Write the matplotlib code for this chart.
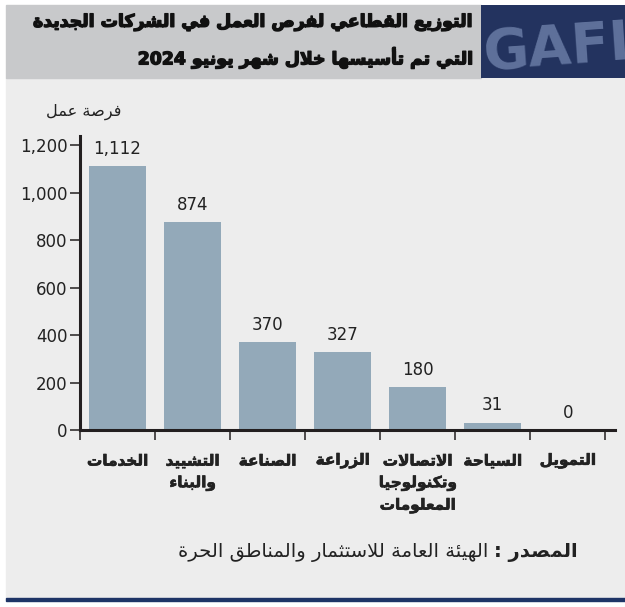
import re
import numpy as np
import matplotlib.pyplot as plt
import matplotlib.patheffects as pe
from matplotlib.patches import Rectangle

## DATA
categories = ['الخدمات', 'التشييد\nوالبناء', 'الصناعة', 'الزراعة',
              'الاتصالات\nوتكنولوجيا\nالمعلومات', 'السياحة', 'التمويل']
jobs = [1112, 874, 370, 327, 180, 31, 0]
yticks = [0, 200, 400, 600, 800, 1000, 1200]
title_lines = ['التوزيع القطاعي لفرص العمل في الشركات الجديدة',
               'التي تم تأسيسها خلال شهر يونيو 2024']
ylabel = 'فرصة عمل'
source_head = 'المصدر :'
source_body = 'الهيئة العامة للاستثمار والمناطق الحرة'

## minimal arabic shaping (matplotlib has no text shaping)
DUAL = {'ئ': 0xFE89, 'ب': 0xFE8F, 'ت': 0xFE95, 'ث': 0xFE99, 'ج': 0xFE9D, 'ح': 0xFEA1,
        'خ': 0xFEA5, 'س': 0xFEB1, 'ش': 0xFEB5, 'ص': 0xFEB9, 'ض': 0xFEBD, 'ط': 0xFEC1,
        'ظ': 0xFEC5, 'ع': 0xFEC9, 'غ': 0xFECD, 'ف': 0xFED1, 'ق': 0xFED5, 'ك': 0xFED9,
        'ل': 0xFEDD, 'م': 0xFEE1, 'ن': 0xFEE5, 'ه': 0xFEE9, 'ي': 0xFEF1}
RIGHT = {'آ': 0xFE81, 'أ': 0xFE83, 'ؤ': 0xFE85, 'إ': 0xFE87, 'ا': 0xFE8D, 'ة': 0xFE93,
         'د': 0xFEA9, 'ذ': 0xFEAB, 'ر': 0xFEAD, 'ز': 0xFEAF, 'و': 0xFEED, 'ى': 0xFEEF}
LAMALEF = {'آ': 0xFEF5, 'أ': 0xFEF7, 'إ': 0xFEF9, 'ا': 0xFEFB}


def shape_line(text):
    out = []
    prev = False
    i = 0
    n = len(text)
    while i < n:
        c = text[i]
        nxt = text[i + 1] if i + 1 < n else ''
        if c == 'ل' and nxt in LAMALEF:
            out.append(chr(LAMALEF[nxt] + (1 if prev else 0)))
            prev = False
            i += 2
            continue
        if c in DUAL:
            jn = nxt in DUAL or nxt in RIGHT
            f = 3 if (prev and jn) else 1 if prev else 2 if jn else 0
            out.append(chr(DUAL[c] + f))
            prev = jn
        elif c in RIGHT:
            out.append(chr(RIGHT[c] + (1 if prev else 0)))
            prev = False
        else:
            out.append(c)
            prev = False
        i += 1
    s = ''.join(out)[::-1]
    # numbers keep left-to-right order
    return re.sub(r'[0-9A-Za-z,.]+', lambda m: m.group(0)[::-1], s)


def ar(text):
    return '\n'.join(shape_line(l) for l in text.split('\n'))


W, H = 625, 607


def fx(x):
    return x / W


def fy(y):
    return 1 - y / H


def fit_width(txt, target_px):
    # scale font so the text spans target_px
    r = fig.canvas.get_renderer()
    w = txt.get_window_extent(r).width
    txt.set_fontsize(txt.get_fontsize() * target_px / w)


plt.rcParams['font.family'] = ['DejaVu Sans']
fig = plt.figure(figsize=(6.25, 6.07), dpi=100)
fig.patch.set_facecolor('white')

# panels
fig.add_artist(Rectangle((fx(6), fy(598)), fx(625) - fx(6), fy(78) - fy(598),
                         transform=fig.transFigure, color='#ededed', zorder=0))
fig.add_artist(Rectangle((fx(6), fy(78)), fx(481) - fx(6), fy(5) - fy(78),
                         transform=fig.transFigure, color='#c8c9cb', zorder=0))
fig.add_artist(Rectangle((fx(6), fy(601)), fx(625) - fx(6), fy(598) - fy(601),
                         transform=fig.transFigure, color='#1e3466', zorder=0))

# logo box
lax = fig.add_axes([fx(481), fy(78), fx(625) - fx(481), fy(5) - fy(78)])
lax.set_facecolor('#23335f')
lax.set_xlim(0, 1)
lax.set_ylim(0, 1)
lax.set_xticks([])
lax.set_yticks([])
for s in lax.spines.values():
    s.set_visible(False)
lax.text(0.0, 0.4, 'GAFI', fontsize=40, fontweight='bold', color='#5f719b',
         ha='left', va='center', rotation=4, clip_on=True)

heavy = [pe.withStroke(linewidth=1.0, foreground='#111111')]

# title
t1 = fig.text(fx(473), fy(22), ar(title_lines[0]), fontsize=16, fontweight='bold',
              color='#111111', ha='right', va='center')
fit_width(t1, 440)
t1.set_path_effects(heavy)
fig.text(fx(473), fy(58), ar(title_lines[1]), fontsize=t1.get_fontsize(),
         fontweight='bold', color='#111111', ha='right', va='center',
         path_effects=heavy)

# chart
ax = fig.add_axes([fx(80), fy(430), fx(615) - fx(80), fy(136) - fy(430)])
ax.set_facecolor('none')
x = np.arange(len(jobs)) + 0.5
bars = ax.bar(x, jobs, width=0.76, color='#93a9b9', zorder=2)
for xi, v in zip(x, jobs):
    ax.annotate(f'{v:,}', (xi, v), xytext=(0, 6), textcoords='offset points',
                ha='center', va='bottom', fontsize=12, color='#222222')

ax.set_xlim(0, 7.13)
ax.set_ylim(0, 1238)
ax.set_yticks(yticks)
ax.set_yticklabels([f'{t:,}' for t in yticks])
ax.set_xticks(np.arange(0, 8))
ax.set_xticklabels([])
for s in ['top', 'right']:
    ax.spines[s].set_visible(False)
for s in ['left', 'bottom']:
    ax.spines[s].set_linewidth(2.2)
    ax.spines[s].set_color('#231f20')
ax.tick_params(axis='y', direction='out', length=7, width=1.1, color='#231f20',
               labelsize=12, labelcolor='#222222', pad=2)
ax.tick_params(axis='x', direction='out', length=7, width=1.1, color='#231f20')

for xi, c in zip(x, categories):
    ax.annotate(ar(c), (xi, 0), xycoords=('data', 'axes fraction'),
                xytext=(0, -17), textcoords='offset points', ha='center', va='top',
                fontsize=11, fontweight='bold', color='#222222', linespacing=1.55,
                path_effects=[pe.withStroke(linewidth=0.5, foreground='#222222')])

yl = fig.text(fx(84), fy(112), ar(ylabel), fontsize=11, color='#222222',
              ha='center', va='center')
fit_width(yl, 75)

# source
head = fig.text(fx(578), fy(553), ar(source_head), fontsize=14, fontweight='bold',
                color='#222222', ha='right', va='center')
body = ax.annotate(ar(source_body), xy=(0, 0.5), xycoords=head, xytext=(-4, 0),
                   textcoords='offset points', ha='right', va='center', fontsize=14,
                   color='#222222', annotation_clip=False)

fig.savefig('out.png', dpi=100, facecolor=fig.get_facecolor())
